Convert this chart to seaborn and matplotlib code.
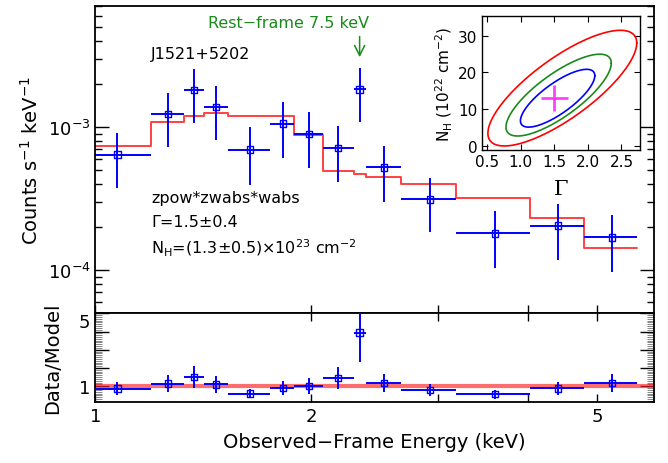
import numpy as np
import matplotlib
matplotlib.use("Agg")
import matplotlib.pyplot as plt
import seaborn as sns
from matplotlib.ticker import FixedLocator, FixedFormatter, NullLocator, NullFormatter, MultipleLocator

# spectrum bins (observed-frame keV)
bin_edges = [0.96, 1.195, 1.328, 1.416, 1.532, 1.750, 1.893, 2.072, 2.291, 2.380,
             2.668, 3.183, 4.025, 4.791, 5.677]
bin_energy = [1.073, 1.262, 1.371, 1.472, 1.641, 1.824, 1.983, 2.178, 2.334, 2.523,
              2.924, 3.606, 4.409, 5.241]
counts = [6.44e-4, 1.232e-3, 1.82e-3, 1.385e-3, 6.98e-4, 1.059e-3, 8.98e-4, 7.17e-4,
          1.84e-3, 5.23e-4, 3.13e-4, 1.81e-4, 2.05e-4, 1.70e-4]
counts_hi = [9.13e-4, 1.73e-3, 2.55e-3, 1.94e-3, 1.0e-3, 1.5e-3, 1.28e-3, 1.02e-3,
             2.59e-3, 7.44e-4, 4.43e-4, 2.61e-4, 2.92e-4, 2.42e-4]
counts_lo = [3.78e-4, 7.29e-4, 1.07e-3, 8.16e-4, 3.96e-4, 6.1e-4, 5.2e-4, 4.15e-4,
             1.09e-3, 3.0e-4, 1.86e-4, 1.04e-4, 1.17e-4, 9.75e-5]
model = [7.44e-4, 1.083e-3, 1.205e-3, 1.258e-3, 1.19e-3, 1.19e-3, 8.88e-4, 4.98e-4,
         4.67e-4, 4.45e-4, 4.01e-4, 3.21e-4, 2.33e-4, 1.43e-4]
line_energy = 2.334  # rest-frame 7.5 keV

# confidence contours (Gamma vs N_H)
best_gamma, gamma_err = 1.5, 0.2
best_nh, nh_err = 13.0, 3.5
sigma_gamma, sigma_nh, rho = 0.365, 5.2, 0.78
conf_dchi2 = [2.30, 4.61, 9.21]
conf_gamma0 = [1.55, 1.565, 1.62]
conf_nh0 = [12.95, 13.8, 15.7]
conf_colors = ["#0000ff", "#1a8a1a", "#ff0000"]

BLUE = "#0000ff"
RED = "#ff2020"
GREEN = "#1a8a1a"

sns.set_theme(style="ticks")
plt.rcParams["font.family"] = ["DejaVu Sans"]
plt.rcParams["axes.linewidth"] = 1.3
for key in ["text.color", "axes.labelcolor", "xtick.color", "ytick.color", "axes.edgecolor"]:
    plt.rcParams[key] = "black"

edges = np.array(bin_edges)
en = np.array(bin_energy)
cts = np.array(counts)
mod = np.array(model)
xerr = [en - edges[:-1], edges[1:] - en]
yerr = [cts - np.array(counts_lo), np.array(counts_hi) - cts]

fig = plt.figure(figsize=(6.68, 4.64), dpi=100)
ax = fig.add_axes([0.1428, 0.3226, 0.8362, 0.6617])
axr = fig.add_axes([0.1428, 0.1321, 0.8362, 0.1905], sharex=ax)
axi = fig.add_axes([0.7211, 0.6752, 0.2374, 0.2875])

# --- main spectrum
sns.lineplot(x=edges, y=np.append(mod, mod[-1]), drawstyle="steps-post",
             estimator=None, sort=False, color=RED, lw=1.4, alpha=0.85, ax=ax)
ax.errorbar(en, cts, xerr=xerr, yerr=yerr, fmt="none", ecolor=BLUE, elinewidth=1.4)
sns.scatterplot(x=en, y=cts, marker="s", s=22, facecolor="none", edgecolor=BLUE,
                linewidth=1.0, ax=ax, zorder=5)
ax.set_xscale("log")
ax.set_yscale("log")
ax.set_xlim(1.0, 6.0)
ax.set_ylim(5e-5, 7e-3)
ax.set_ylabel("Counts s$^{-1}$ keV$^{-1}$", fontsize=14, labelpad=4)
ax.tick_params(axis="y", which="major", direction="in", length=10, width=1,
               left=True, right=True, labelsize=13)
ax.tick_params(axis="y", which="minor", direction="in", length=5, width=1,
               left=True, right=True)
ax.tick_params(axis="x", which="both", direction="in", length=6, width=1,
               bottom=True, top=False, labelbottom=False)

ax.annotate("", xy=(line_energy, 2.95e-3), xytext=(line_energy, 4.5e-3),
            arrowprops=dict(arrowstyle="->", color=GREEN, lw=1.1, mutation_scale=18))
ax.text(0.345, 0.948, "Rest\u2212frame 7.5 keV", transform=ax.transAxes, color=GREEN,
        fontsize=11.5, ha="center", va="center")
ax.text(0.10, 0.845, "J1521+5202", transform=ax.transAxes, fontsize=11.5,
        ha="left", va="center")
ax.text(0.10, 0.376, "zpow*zwabs*wabs", transform=ax.transAxes, fontsize=11.5,
        ha="left", va="center")
ax.text(0.10, 0.298, "\u0393=1.5\u00b10.4", transform=ax.transAxes, fontsize=11.5,
        ha="left", va="center")
ax.text(0.10, 0.216, "N$_\\mathregular{H}$=(1.3\u00b10.5)\u00d710$^{23}$ cm$^{-2}$",
        transform=ax.transAxes, fontsize=11.5, ha="left", va="center")

# --- ratio panel
ratio = cts / mod
rerr = [yerr[0] / mod, yerr[1] / mod]
axr.axhline(1.0, color=RED, lw=3, alpha=0.65, zorder=1)
axr.errorbar(en, ratio, xerr=xerr, yerr=rerr, fmt="none", ecolor=BLUE, elinewidth=1.4,
             zorder=3)
sns.scatterplot(x=en, y=ratio, marker="s", s=22, facecolor="none", edgecolor=BLUE,
                linewidth=1.0, ax=axr, zorder=5)
axr.set_xscale("log")
axr.set_xlim(1.0, 6.0)
axr.set_ylim(0.15, 5.0)
axr.xaxis.set_major_locator(FixedLocator([1, 2, 3, 4, 5]))
axr.xaxis.set_major_formatter(FixedFormatter(["1", "2", "", "", "5"]))
axr.xaxis.set_minor_locator(NullLocator())
axr.xaxis.set_minor_formatter(NullFormatter())
axr.yaxis.set_major_locator(FixedLocator([1, 2, 3, 4, 5]))
axr.yaxis.set_major_formatter(FixedFormatter(["1", "", "", "", "5"]))
axr.yaxis.set_minor_locator(MultipleLocator(0.1))
axr.tick_params(axis="x", which="major", direction="in", length=6, width=1,
                bottom=True, top=True, labelsize=13, pad=4)
axr.tick_params(axis="y", which="major", direction="in", length=10, width=1,
                left=True, right=True, labelsize=13)
axr.tick_params(axis="y", which="minor", direction="in", length=5, width=0.6,
                color="0.45", left=True, right=True)
axr.set_ylabel("Data/Model", fontsize=14, labelpad=12)
axr.set_xlabel("Observed\u2212Frame Energy (keV)", fontsize=14, labelpad=5)
axr.get_yticklabels()[-1].set_va("top")

# --- inset contours
t = np.linspace(0, 2 * np.pi, 400)
for c, g0, n0, col in zip(conf_dchi2, conf_gamma0, conf_nh0, conf_colors):
    k = np.sqrt(c)
    gx = g0 + k * sigma_gamma * np.cos(t)
    ny = n0 + k * sigma_nh * (rho * np.cos(t) + np.sqrt(1 - rho ** 2) * np.sin(t))
    sns.lineplot(x=gx, y=ny, estimator=None, sort=False, color=col, lw=1.2, ax=axi)
axi.errorbar([best_gamma], [best_nh], xerr=[gamma_err], yerr=[nh_err], fmt="none",
             ecolor="#ff40ff", elinewidth=2.0)
axi.set_xlim(0.42, 2.78)
axi.set_ylim(-1.1, 35.3)
axi.xaxis.set_major_locator(FixedLocator([0.5, 1.0, 1.5, 2.0, 2.5]))
axi.yaxis.set_major_locator(FixedLocator([0, 10, 20, 30]))
axi.tick_params(direction="in", length=4, width=0.8, labelsize=11, pad=3,
                top=True, right=True)
axi.set_xlabel("\u0393", fontsize=15, family="DejaVu Serif", labelpad=7)
axi.set_ylabel("N$_\\mathregular{H}$ (10$^{22}$ cm$^{-2}$)", fontsize=11, labelpad=2)
for s in axi.spines.values():
    s.set_linewidth(1.0)

fig.savefig("out.png", dpi=100)
